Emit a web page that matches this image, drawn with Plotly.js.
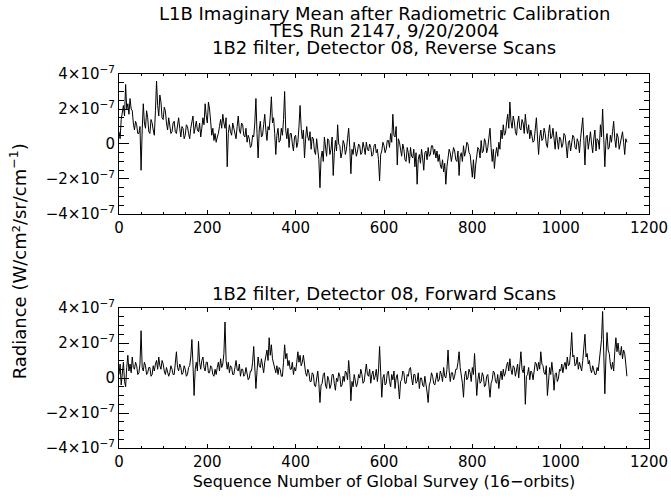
<!DOCTYPE html>
<html>
<head>
<meta charset="utf-8">
<script src="https://cdn.plot.ly/plotly-3.0.1.min.js"></script>
<style>html,body{margin:0;padding:0;background:#fff;}#chart{width:671px;height:501px;}</style>
</head>
<body>
<div id="chart"></div>
<script>
// Sequence spacing of the samples
const seqStep = 2.5;
// Reverse scans, radiance in units of 1e-7 W/cm2/sr/cm-1 (one row = 25 sequence numbers)
const reverseScans = [
0.7,0.3, 1.4,1.8, 2.2,1.6, 3.4,2.0, 2.3,1.7,
2.6,2.0, 1.9,1.2, 0.8,1.3, 1.1,0.6, 0.6,1.0,
-1.5,0.8, 2.3,1.2, 0.9,1.9, 1.5,0.7, 0.6,1.4,
1.2,0.8, 0.5,1.9, 3.6,2.2, 1.6,2.8, 2.4,1.5,
1.4,2.1, 1.9,1.2, 0.8,1.5, 1.1,0.6, 0.7,1.2,
1.3,0.7, 0.6,1.1, 1.5,0.9, 0.4,1.0, 0.9,0.3,
0.5,1.1, 1.0,0.6, 0.3,0.9, 1.2,1.6, 0.6,1.0,
1.3,0.8, 0.7,1.2, 0.4,0.9, 1.5,1.1, 2.3,1.6,
1.2,2.4, 2.0,1.3, 0.5,0.9, 0.2,0.6, 0.1,0.4,
0.6,1.0, 1.4,0.9, 1.7,1.2, 0.9,1.5, -1.3,0.6,
1.1,0.7, 0.5,1.2, 0.9,0.4, 0.3,1.0, 1.6,0.8,
0.6,1.2, 1.1,0.5, 0.4,0.9, 0.1,0.5, 0.3,-0.2,
-0.1,0.5, 0.4,1.2, 2.6,0.6, -0.8,0.8, 1.3,0.4,
0.5,1.1, 1.7,0.8, 0.2,1.0, 0.8,1.6, 2.7,1.2,
1.5,0.6, -0.6,0.5, 0.9,0.1, 0.2,0.9, 0.5,1.4,
3.0,0.8, 0.3,0.9, -0.2,0.6, 0.6,0.0, -0.4,0.4,
0.5,-0.2, 0.1,1.0, 2.2,0.9, 0.3,0.8, -0.8,0.3,
1.0,0.4, 0.2,0.7, -0.3,0.4, 0.3,-0.4, -0.6,0.3,
-0.2,-0.9, -2.5,-0.8, -0.4,-1.0, 0.4,-0.3, -0.7,0.3,
0.2,-0.6, -0.3,0.4, -1.8,-0.5, 0.2,-0.4, 1.1,0.0,
-0.1,-0.8, -0.5,0.2, 0.0,-0.6, -0.3,0.3, 0.9,-0.2,
-1.7,-0.3, -0.6,0.1, -0.2,-0.7, -0.4,0.0, -0.1,-0.6,
-0.5,0.1, -0.2,-0.6, 0.1,-0.3, -0.4,0.0, -0.2,-0.7,
-0.6,-0.1, 0.0,-0.5, -0.3,-0.9, -2.1,-0.6, -0.4,0.1,
-0.1,-0.5, -0.3,0.2, 0.2,-0.2, 0.6,0.1, 1.7,0.5,
0.4,1.0, -1.2,0.3, 0.1,-0.5, -0.7,0.0, -0.3,-0.9,
-1.0,-0.2, -0.5,-1.1, -0.2,-0.7, -0.8,-0.3, -1.3,-0.5,
-2.3,-0.9, -0.6,-1.1, -0.3,-0.8, -1.5,-0.5, -0.4,-0.9,
-0.2,-0.7, -0.6,-0.1, -0.1,-0.6, -0.3,-0.8, -0.4,-1.0,
-0.6,-1.2, -1.4,-0.9, -1.6,-1.1, -2.3,-1.3, -0.8,-0.3,
-0.5,-1.0, -0.6,-0.2, -0.4,-0.9, -1.0,-0.4, -1.8,-0.7,
-0.5,-1.0, -0.1,-0.7, -0.4,0.1, 0.0,-0.5, -0.6,-1.1,
-1.9,-0.9, -2.0,-1.2, -0.8,-0.2, -0.3,-0.8, 0.2,-0.5,
-0.4,0.3, 0.1,-0.5, -0.2,0.4, 0.9,-0.2, -1.0,-0.3,
-1.4,-0.6, -0.2,-0.7, 0.1,-0.3, 0.8,0.3, 1.1,0.5,
0.6,1.2, 1.7,0.9, 2.4,1.3, 0.9,1.6, 1.3,0.7,
0.5,1.2, 1.6,0.9, 0.8,1.4, 1.2,0.6, 1.7,1.0,
0.6,1.1, 0.3,0.8, 0.5,0.1, 0.2,0.7, 1.5,0.4,
-0.6,0.4, 0.8,0.2, 0.3,0.9, 0.6,0.0, -0.2,0.6,
1.1,0.3, 0.4,0.9, 0.2,-0.3, 0.7,0.1, -0.3,0.4,
0.3,-0.2, 0.0,0.6, 0.5,-0.1, -0.8,0.1, 0.2,-0.4,
0.0,0.5, 0.4,-0.2, -0.3,0.3, 0.1,-0.5, 0.3,0.8,
1.5,0.2, -1.2,0.4, 0.5,-0.3, 0.2,0.7, 0.0,-0.5,
0.3,0.8, -0.4,0.3, 0.2,-0.3, 1.1,0.4, 2.0,0.7,
-1.3,0.2, 0.6,-0.3, -0.2,0.5, 0.1,0.7, 1.3,0.3,
-0.2,0.6, 0.4,-0.3, 0.0,0.5, 0.7,0.1, -0.6,0.3,
0.1
];
// Forward scans, radiance in units of 1e-7 W/cm2/sr/cm-1 (one row = 25 sequence numbers)
const forwardScans = [
0.2,0.8, -0.4,0.5, 0.9,-0.2, -0.5,0.6, 1.3,0.4,
0.8,0.3, 1.2,0.6, 0.5,0.9, 0.7,0.2, 0.3,0.8,
2.7,0.6, 0.4,0.9, 0.7,0.2, 0.3,0.6, 0.6,0.1,
0.2,0.7, 0.4,0.8, 1.0,0.5, 1.2,0.7, 0.5,1.0,
0.8,0.4, 0.2,0.6, 0.4,0.1, 0.3,0.7, 0.5,0.2,
0.2,0.8, 1.5,0.6, 0.4,0.8, 0.6,0.2, 0.3,0.7,
0.5,0.1, 0.2,0.6, 0.7,1.2, 2.2,0.8, -1.0,0.5,
0.9,0.4, 2.1,0.9, 0.5,1.0, 1.2,0.6, 0.4,0.9,
0.9,0.3, 0.3,0.7, 0.6,0.2, 0.1,0.5, 0.2,0.6,
0.9,0.4, 1.1,0.6, 0.8,1.4, 3.2,1.0, 0.5,0.9,
0.3,0.7, 0.6,0.2, 0.2,0.6, 1.0,0.5, 0.4,0.8,
0.1,0.5, 0.5,0.1, 0.2,0.6, 0.3,-0.1, 0.0,0.4,
0.4,0.9, 1.8,0.5, -0.6,0.4, 1.2,0.7, 0.6,1.1,
0.7,0.3, 0.9,1.3, 1.6,1.0, 2.3,1.3, 1.9,1.1,
0.8,0.4, 0.3,0.7, 0.2,0.6, 0.5,0.1, 0.1,0.9,
1.9,1.1, 1.4,0.7, 1.0,0.5, 0.5,0.9, 0.2,0.6,
0.4,0.9, 1.5,0.9, 1.3,0.7, 0.9,1.3, 0.7,0.3,
0.1,0.5, 0.3,-0.2, -0.2,0.3, 0.2,-0.4, -0.5,0.1,
0.4,-0.3, -1.4,-0.4, -0.3,0.2, 0.3,-0.4, -0.6,0.1,
-0.1,-0.6, -0.4,0.2, 0.2,-0.3, -0.7,0.0, -0.2,0.3,
0.1,-0.5, -0.4,0.1, -0.2,0.4, 0.3,-0.1, 1.0,0.2,
-1.3,-0.2, -0.5,0.2, -0.1,-0.5, -0.3,0.2, 0.0,0.5,
0.2,-0.3, -0.2,0.3, 0.8,0.2, 0.1,0.5, -0.3,0.2,
0.4,-0.1, 0.1,0.5, -0.2,0.4, 1.8,0.3, -1.1,0.0,
0.2,-0.4, -0.3,0.3, 0.4,-0.2, -0.5,0.2, -0.1,0.4,
-0.6,0.0, 0.2,-0.4, -1.2,-0.2, -0.1,0.4, 0.3,-0.3,
-0.3,0.2, 0.1,0.5, 0.6,0.0, -0.4,0.2, 0.2,-0.3,
-0.2,0.3, -0.6,0.0, 0.0,-0.4, -0.5,0.1, -0.3,-0.8,
-1.4,-0.4, -0.2,0.3, 0.1,-0.3, -0.4,0.1, 0.3,-0.2,
-0.1,0.4, 0.2,-0.2, 0.6,0.1, 0.0,0.5, 1.6,0.4,
-0.2,0.3, 0.3,-0.1, 0.1,0.5, 0.5,0.9, 1.5,0.6,
0.2,-0.3, -1.1,0.1, 0.4,-0.1, 0.0,0.5, 0.3,-0.2,
0.6,0.2, 1.4,0.3, -1.0,-0.1, 0.3,-0.3, -0.2,0.3,
0.1,-0.5, -0.4,0.1, 0.2,-0.4, -1.1,-0.3, -0.1,0.4,
0.3,-0.2, -0.3,0.2, -0.6,0.0, 0.4,-0.1, 0.5,0.1,
0.3,0.7, 0.9,0.4, 1.1,0.5, 0.2,0.7, 0.6,0.1,
0.4,0.8, 0.0,0.6, 1.5,0.5, 0.3,0.7, -1.5,0.1,
0.2,0.6, -0.1,0.4, 0.3,-0.1, 0.4,0.9, 0.8,0.4,
0.9,0.5, 1.5,0.8, 0.7,0.3, 0.2,0.7, -1.0,0.2,
0.6,0.2, 0.9,0.3, -0.7,0.2, 0.3,-0.2, 0.0,0.5,
0.4,0.8, 0.3,0.7, 0.9,0.5, 1.2,0.7, 0.8,1.5,
2.6,1.2, 1.3,0.7, 0.8,1.2, 0.5,0.9, 0.7,0.4,
1.0,1.6, 2.5,1.2, 1.4,0.8, 1.0,0.5, 0.3,0.7,
0.5,0.2, 0.2,0.6, 0.4,0.9, 1.6,2.2, 3.8,1.4,
-0.9,1.2, 2.6,1.6, 1.4,0.8, 0.5,0.9, 0.4,1.5,
2.3,1.5, 2.0,1.4, 1.3,1.8, 1.1,1.6, 1.4,0.8,
0.1
];
const yTickVals = [-4, -2, 0, 2, 4];
const yTickText = ['−4×10<sup>−7</sup>', '−2×10<sup>−7</sup>', '0', '2×10<sup>−7</sup>', '4×10<sup>−7</sup>'];
const xTickVals = [0, 200, 400, 600, 800, 1000, 1200];

const seqRev = reverseScans.map((_, i) => i * seqStep);
const seqFwd = forwardScans.map((_, i) => i * seqStep);

const FONT = 'DejaVu Sans, sans-serif';
const line = {color: '#000', width: 1};

const traces = [
  {x: seqRev, y: reverseScans, type: 'scatter', mode: 'lines', line: line, xaxis: 'x', yaxis: 'y', hoverinfo: 'skip'},
  {x: seqFwd, y: forwardScans, type: 'scatter', mode: 'lines', line: line, xaxis: 'x2', yaxis: 'y2', hoverinfo: 'skip'}
];

function xAxis(anchor) {
  return {
    anchor: anchor, domain: [0, 1], range: [0, 1200],
    tickvals: xTickVals, ticks: 'inside', ticklen: 4, tickcolor: '#000',
    minor: {dtick: 50, ticks: 'inside', ticklen: 2, tickcolor: '#000', showgrid: false},
    showline: true, linecolor: '#000', linewidth: 1, mirror: 'allticks',
    showgrid: false, zeroline: false,
    tickfont: {family: FONT, size: 15, color: '#000'}
  };
}
function yAxis(anchor, domain) {
  return {
    anchor: anchor, domain: domain, range: [-4, 4],
    tickvals: yTickVals, ticktext: yTickText, ticks: 'inside', ticklen: 10, tickcolor: '#000',
    minor: {dtick: 0.5, ticks: 'inside', ticklen: 5, tickcolor: '#000', showgrid: false},
    showline: true, linecolor: '#000', linewidth: 1, mirror: 'allticks',
    showgrid: false, zeroline: false,
    tickfont: {family: FONT, size: 15, color: '#000'}
  };
}

const xa2 = xAxis('y2');
xa2.title = {text: 'Sequence Number of Global Survey (16−orbits)', font: {family: FONT, size: 16, color: '#000'}, standoff: 5};

const TF = {family: FONT, size: 18, color: '#000'};
const layout = {
  width: 671, height: 501,
  margin: {l: 119, r: 22, t: 74, b: 53},
  paper_bgcolor: '#fff', plot_bgcolor: '#fff',
  showlegend: false,
  font: {family: FONT, color: '#000'},
  xaxis: xAxis('y'),
  yaxis: yAxis('x', [0.6257, 1]),
  xaxis2: xa2,
  yaxis2: yAxis('x2', [0, 0.3743]),
  annotations: [
    {text: 'L1B Imaginary Mean after Radiometric Calibration', xref: 'paper', yref: 'paper', x: 0.5, y: 1.163, showarrow: false, font: TF, xanchor: 'center', yanchor: 'middle'},
    {text: 'TES Run 2147, 9/20/2004', xref: 'paper', yref: 'paper', x: 0.5, y: 1.117, showarrow: false, font: TF, xanchor: 'center', yanchor: 'middle'},
    {text: '1B2 filter, Detector 08, Reverse Scans', xref: 'paper', yref: 'paper', x: 0.5, y: 1.071, showarrow: false, font: TF, xanchor: 'center', yanchor: 'middle'},
    {text: '1B2 filter, Detector 08, Forward Scans', xref: 'paper', yref: 'paper', x: 0.5, y: 0.414, showarrow: false, font: TF, xanchor: 'center', yanchor: 'middle'},
    {text: 'Radiance (W/cm²/sr/cm<sup>−1</sup>)', xref: 'paper', yref: 'paper', x: -0.19, y: 0.5, textangle: -90, showarrow: false, font: {family: FONT, size: 18, color: '#000'}, xanchor: 'center', yanchor: 'middle'}
  ]
};

Plotly.newPlot('chart', traces, layout, {staticPlot: true, displayModeBar: false});
</script>
</body>
</html>
